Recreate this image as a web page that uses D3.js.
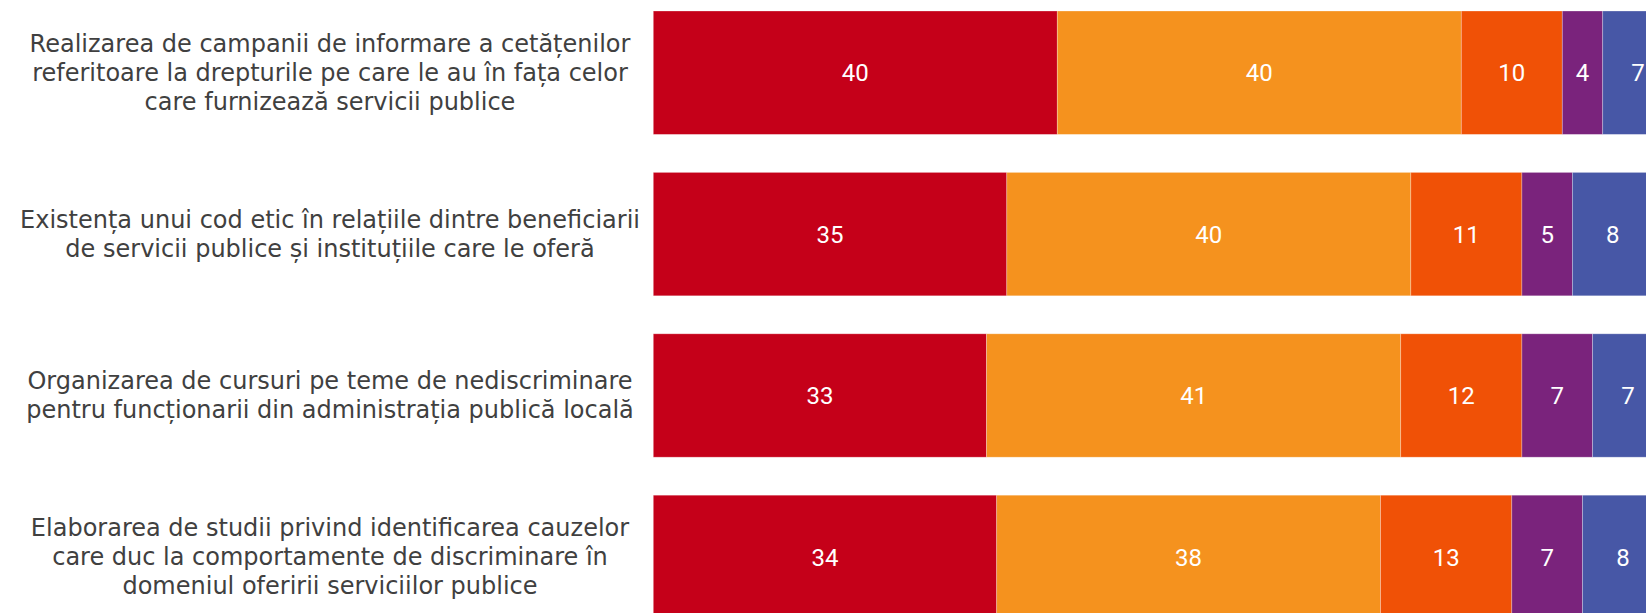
<!DOCTYPE html>
<html>
<head>
<meta charset="utf-8">
<script src="https://cdn.jsdelivr.net/npm/d3@7/dist/d3.min.js"></script>
<style>
  html, body { margin: 0; padding: 0; background: #fff; overflow: hidden; }
  svg { display: block; }
</style>
</head>
<body>
<svg id="chart" width="1646" height="613"></svg>
<script>
// ---- data ----
const categories = [
  "Realizarea de campanii de informare a cetățenilor\nreferitoare la drepturile pe care le au în fața celor\ncare furnizează servicii publice",
  "Existența unui cod etic în relațiile dintre beneficiarii\nde servicii publice și instituțiile care le oferă",
  "Organizarea de cursuri pe teme de nediscriminare\npentru funcționarii din administrația publică locală",
  "Elaborarea de studii privind identificarea cauzelor\ncare duc la comportamente de discriminare în\ndomeniul oferirii serviciilor publice"
];
const seriesNames = ["s1", "s2", "s3", "s4", "s5"];
const s1 = [40, 35, 33, 34];
const s2 = [40, 40, 41, 38];
const s3 = [10, 11, 12, 13];
const s4 = [4, 5, 7, 7];
const s5 = [7, 8, 7, 8];
const seriesValues = [s1, s2, s3, s4, s5];
const colors = ["#C50019", "#F5921E", "#F05106", "#7A237C", "#4757A6"];

// ---- build table ----
const rows = categories.map((c, i) => {
  const r = { category: c };
  seriesNames.forEach((s, j) => r[s] = seriesValues[j][i]);
  return r;
});
const stacked = d3.stack().keys(seriesNames)(rows);

const svg = d3.select("#chart");

const x = d3.scaleLinear().domain([0, 100]).range([653.3, 1663.3]);
const y = d3.scaleBand().domain(categories)
  .range([-8, 637.6]).paddingInner(0.2355).paddingOuter(0.11775);
const color = d3.scaleOrdinal().domain(seriesNames).range(colors);

const layers = svg.append("g").selectAll("g")
  .data(stacked).join("g")
  .attr("fill", d => color(d.key));

layers.selectAll("rect")
  .data(d => d).join("rect")
  .attr("x", d => x(d[0]))
  .attr("y", d => y(d.data.category))
  .attr("width", d => x(d[1]) - x(d[0]))
  .attr("height", y.bandwidth())
  .attr("stroke", "rgba(255,255,255,0.35)")
  .attr("stroke-width", 0.8);

layers.selectAll("text")
  .data(d => d).join("text")
  .attr("x", d => (x(d[0]) + x(d[1])) / 2)
  .attr("y", d => y(d.data.category) + y.bandwidth() / 2)
  .attr("dy", "0.36em")
  .attr("text-anchor", "middle")
  .attr("fill", "#fff")
  .style("font-family", "Roboto, sans-serif")
  .style("font-size", "24px")
  .text(d => d3.format(".0f")(d[1] - d[0]));

// ---- category labels ----
const lineH = 29;
const labels = svg.append("g").selectAll("text")
  .data(categories).join("text")
  .attr("text-anchor", "middle")
  .attr("fill", "#404040")
  .style("font-family", "'DejaVu Sans', Verdana, sans-serif")
  .style("font-size", "24px");

labels.each(function(c) {
  const lines = c.split("\n");
  const cy = y(c) + y.bandwidth() / 2;
  const t = d3.select(this);
  lines.forEach((ln, k) => {
    t.append("tspan")
      .attr("x", 330)
      .attr("y", cy + (k - (lines.length - 1) / 2) * lineH)
      .attr("dy", "0.35em")
      .text(ln);
  });
});
</script>
</body>
</html>
